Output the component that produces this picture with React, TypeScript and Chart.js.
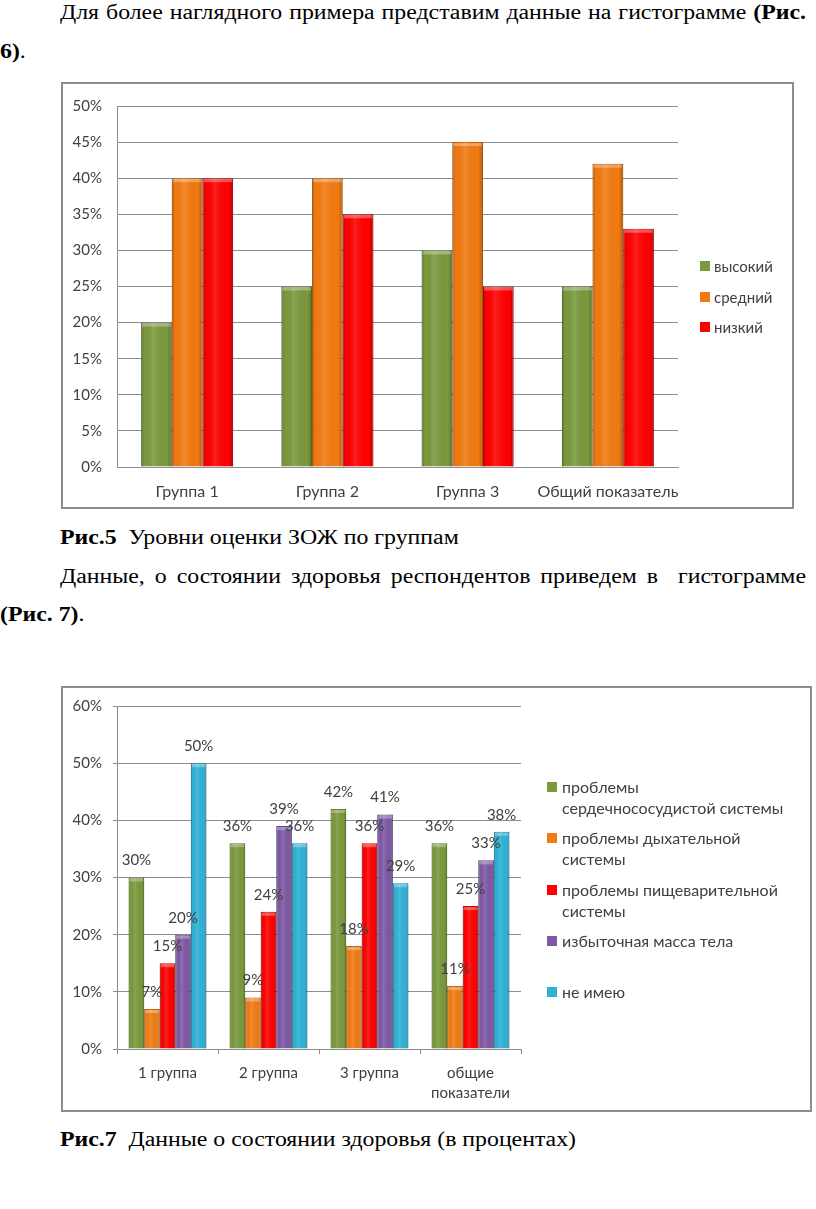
import React, { useEffect, useRef } from 'react';
import { Chart, registerables } from 'chart.js';

Chart.register(...registerables);

const FONT = 'Lato, "Open Sans", sans-serif';
const SERIF = '"Liberation Serif", "Times New Roman", serif';

// ---- Chart 1 (Рис.5) ----
const groups1 = ['Группа 1', 'Группа 2', 'Группа 3', 'Общий показатель'];
const levelNames = ['высокий', 'средний', 'низкий'];
const highValues = [20, 25, 30, 25];
const midValues = [40, 40, 45, 42];
const lowValues = [40, 35, 25, 33];
const levelColors = ['#7A9A3C', '#F27A10', '#FF0000'];
const levelBorders = ['#5F7A2C', '#C9600A', '#C80000'];
const yTicks1Max = 50;
const yTicks1Step = 5;

// ---- Chart 2 (Рис.7) ----
const groups2 = ['1 группа', '2 группа', '3 группа', ['общие', 'показатели']];
const healthNames = [
  ['проблемы', 'сердечнососудистой системы'],
  ['проблемы дыхательной', 'системы'],
  ['проблемы пищеварительной', 'системы'],
  ['избыточная масса тела'],
  ['не имею'],
];
const heartValues = [30, 36, 42, 36];
const breathValues = [7, 9, 18, 11];
const digestValues = [15, 24, 36, 25];
const weightValues = [20, 39, 41, 33];
const noneValues = [50, 36, 29, 38];
const healthColors = ['#7A9A3C', '#F07C14', '#FF0000', '#7E58A6', '#2FB2D6'];
const healthBorders = ['#5F7A2C', '#C9600A', '#C80000', '#5E3F84', '#1D8CAC'];
const yTicks2Max = 60;
const yTicks2Step = 10;

const GRID = '#8C8C8C';
const TEXT = '#404040';

// soft bevel shading over each bar (drawn from the bar elements' geometry)
const barShade = {
  id: 'barShade',
  afterDatasetsDraw(chart: any) {
    const ctx = chart.ctx;
    ctx.save();
    chart.data.datasets.forEach((_ds: any, i: number) => {
      const meta = chart.getDatasetMeta(i);
      meta.data.forEach((el: any) => {
        const left = el.x - el.width / 2;
        const top = el.y;
        const h = el.base - el.y;
        const g = ctx.createLinearGradient(left, 0, left + el.width, 0);
        g.addColorStop(0, 'rgba(0,0,0,0.22)');
        g.addColorStop(0.12, 'rgba(0,0,0,0.0)');
        g.addColorStop(0.4, 'rgba(255,255,255,0.12)');
        g.addColorStop(0.85, 'rgba(0,0,0,0.0)');
        g.addColorStop(1, 'rgba(0,0,0,0.25)');
        ctx.fillStyle = g;
        ctx.fillRect(left, top, el.width, h);
        ctx.fillStyle = 'rgba(255,255,255,0.3)';
        ctx.fillRect(left + 1, top + 1, el.width - 2, Math.min(3, h));
      });
    });
    ctx.restore();
  },
};

const barLabels = {
  id: 'barLabels',
  afterDatasetsDraw(chart: any) {
    const ctx = chart.ctx;
    ctx.save();
    ctx.font = `15px ${FONT}`;
    ctx.fillStyle = TEXT;
    ctx.textAlign = 'center';
    ctx.textBaseline = 'middle';
    chart.data.datasets.forEach((ds: any, i: number) => {
      const meta = chart.getDatasetMeta(i);
      meta.data.forEach((el: any, j: number) => {
        ctx.fillText(ds.data[j] + '%', el.x, el.y - 17);
      });
    });
    ctx.restore();
  },
};

function ChartOne() {
  const ref = useRef<HTMLCanvasElement>(null);
  useEffect(() => {
    const series = [highValues, midValues, lowValues];
    const chart = new Chart(ref.current!, {
      type: 'bar',
      data: {
        labels: groups1,
        datasets: series.map((d, i) => ({
          label: levelNames[i],
          data: d,
          backgroundColor: levelColors[i],
          borderColor: levelBorders[i],
          borderWidth: 1,
          barPercentage: 1,
          categoryPercentage: 0.656,
        })),
      },
      options: {
        responsive: false,
        animation: false,
        layout: { padding: { left: 0, top: 20, right: 116, bottom: 0 } },
        plugins: { legend: { display: false }, tooltip: { enabled: false } },
        scales: {
          x: {
            grid: { display: false, drawTicks: false },
            border: { display: true, color: GRID, width: 1 },
            ticks: { color: TEXT, font: { family: FONT, size: 16 }, padding: 15, maxRotation: 0, autoSkip: false },
            afterFit: (s: any) => { s.height = 42; },
          },
          y: {
            min: 0,
            max: yTicks1Max,
            ticks: {
              stepSize: yTicks1Step,
              color: TEXT,
              font: { family: FONT, size: 15 },
              padding: 15,
              callback: (v: any) => v + '%',
            },
            grid: { color: GRID, drawTicks: false, lineWidth: 1 },
            border: { display: true, color: GRID, width: 1 },
            afterFit: (s: any) => { s.width = 56; },
          },
        },
      },
      plugins: [barShade],
    });
    return () => chart.destroy();
  }, []);
  return (
    <canvas
      ref={ref}
      width={733}
      height={427}
      style={{ position: 'absolute', left: 61, top: 82, width: 733, height: 427 }}
    />
  );
}

function ChartTwo() {
  const ref = useRef<HTMLCanvasElement>(null);
  useEffect(() => {
    const series = [heartValues, breathValues, digestValues, weightValues, noneValues];
    const chart = new Chart(ref.current!, {
      type: 'bar',
      data: {
        labels: groups2 as any,
        datasets: series.map((d, i) => ({
          label: healthNames[i].join(' '),
          data: d,
          backgroundColor: healthColors[i],
          borderColor: healthBorders[i],
          borderWidth: 1,
          barPercentage: 1,
          categoryPercentage: 0.77,
        })),
      },
      options: {
        responsive: false,
        animation: false,
        layout: { padding: { left: 0, top: 19, right: 291, bottom: 0 } },
        plugins: { legend: { display: false }, tooltip: { enabled: false } },
        scales: {
          x: {
            grid: { display: true, drawOnChartArea: false, drawTicks: true, tickLength: 5, offset: true, color: GRID },
            border: { display: true, color: GRID, width: 1 },
            ticks: { color: TEXT, font: { family: FONT, size: 15, lineHeight: 1.33 }, padding: 9, maxRotation: 0, autoSkip: false },
            afterFit: (s: any) => { s.height = 63; },
          },
          y: {
            min: 0,
            max: yTicks2Max,
            ticks: {
              stepSize: yTicks2Step,
              color: TEXT,
              font: { family: FONT, size: 15 },
              padding: 11,
              callback: (v: any) => v + '%',
            },
            grid: { color: GRID, drawTicks: true, tickLength: 4, lineWidth: 1 },
            border: { display: true, color: GRID, width: 1 },
            afterFit: (s: any) => { s.width = 56; },
          },
        },
      },
      plugins: [barShade, barLabels],
    });
    return () => chart.destroy();
  }, []);
  return (
    <canvas
      ref={ref}
      width={751}
      height={426}
      style={{ position: 'absolute', left: 61, top: 686, width: 751, height: 426 }}
    />
  );
}

const SX = 1.19; // the page text is slightly stretched horizontally

const abs = (left: number, top: number, extra: any = {}) => ({
  position: 'absolute' as const,
  left,
  top,
  ...extra,
});

const para = {
  fontFamily: SERIF,
  fontSize: 20,
  lineHeight: '22px',
  color: '#000',
  whiteSpace: 'nowrap' as const,
  transform: `scaleX(${SX})`,
  transformOrigin: '0 0',
};

export default function App() {
  const legend1Y = [266, 297, 327];
  const legend2Y = [787, 838, 890, 941, 992];
  return (
    <div style={{ position: 'absolute', left: 0, top: 0, width: 816, height: 1209, background: '#fff', overflow: 'hidden' }}>
      <div style={abs(60, 1, { ...para, width: 746 / SX, textAlign: 'justify', textAlignLast: 'justify' })}>
        Для более наглядного примера представим данные на гистограмме <b>(Рис.</b>
      </div>
      <div style={abs(0, 40, para)}>
        <b>6)</b>.
      </div>

      <div style={abs(61, 82, { width: 733, height: 427, border: '2px solid #8C8C8C', boxSizing: 'border-box' })} />
      <ChartOne />
      {levelNames.map((n, i) => (
        <React.Fragment key={n}>
          <div style={abs(700, legend1Y[i] - 5, { width: 10, height: 10, background: levelColors[i] })} />
          <div style={abs(714, legend1Y[i] - 10, { fontFamily: FONT, fontSize: 15, lineHeight: '20px', color: TEXT, whiteSpace: 'nowrap' })}>
            {n}
          </div>
        </React.Fragment>
      ))}

      <div style={abs(60, 526, para)}>
        <b>Рис.5</b>&nbsp; Уровни оценки ЗОЖ по группам
      </div>
      <div style={abs(60, 565, { ...para, width: 746 / SX, textAlign: 'justify', textAlignLast: 'justify' })}>
        Данные, о состоянии здоровья респондентов приведем в&nbsp; гистограмме
      </div>
      <div style={abs(0, 603, para)}>
        <b>(Рис. 7)</b>.
      </div>

      <div style={abs(61, 686, { width: 751, height: 426, border: '2px solid #8C8C8C', boxSizing: 'border-box' })} />
      <ChartTwo />
      {healthNames.map((lines, i) => (
        <React.Fragment key={i}>
          <div style={abs(547, legend2Y[i] - 5, { width: 10, height: 10, background: healthColors[i] })} />
          <div style={abs(562, legend2Y[i] - 11, { fontFamily: FONT, fontSize: 16, lineHeight: '21px', color: TEXT, whiteSpace: 'nowrap' })}>
            {lines.map((l, k) => (
              <div key={k}>{l}</div>
            ))}
          </div>
        </React.Fragment>
      ))}

      <div style={abs(60, 1128, para)}>
        <b>Рис.7</b>&nbsp; Данные о состоянии здоровья (в процентах)
      </div>
    </div>
  );
}
